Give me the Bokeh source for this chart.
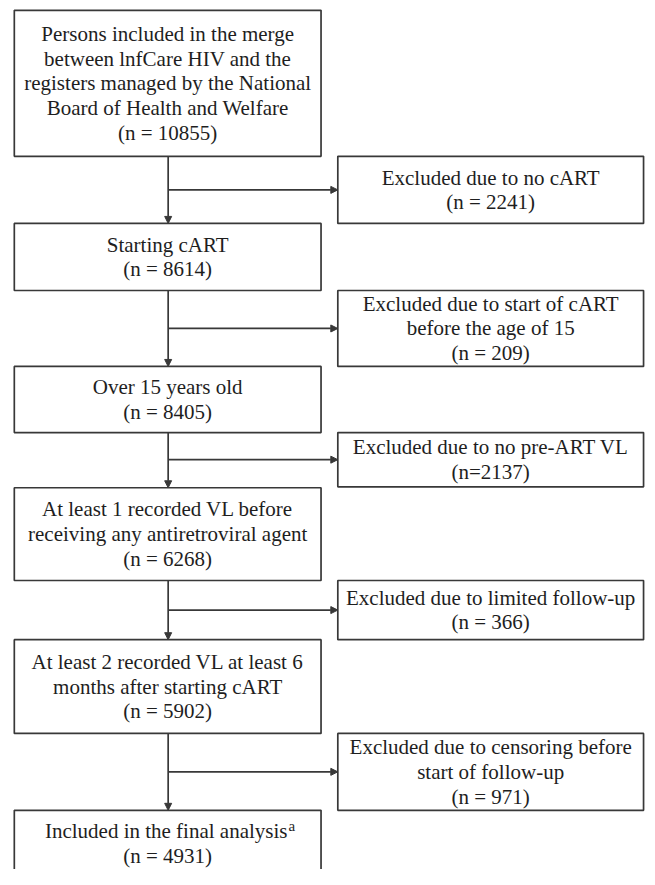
from bokeh.plotting import figure
from bokeh.models import Range1d, Arrow, NormalHead, ColumnDataSource
from bokeh.embed import file_html
from bokeh.resources import INLINE
from bokeh.core.properties import value

# ---------------- data ----------------
main_labels = [
    "Persons included in the merge\nbetween lnfCare HIV and the\nregisters managed by the National\nBoard of Health and Welfare",
    "Starting cART",
    "Over 15 years old",
    "At least 1 recorded VL before\nreceiving any antiretroviral agent",
    "At least 2 recorded VL at least 6\nmonths after starting cART",
    "Included in the final analysis",
]
main_n = ["(n = 10855)", "(n = 8614)", "(n = 8405)", "(n = 6268)", "(n = 5902)", "(n = 4931)"]
main_note = ["", "", "", "", "", "a"]

excl_labels = [
    "Excluded due to no cART",
    "Excluded due to start of cART\nbefore the age of 15",
    "Excluded due to no pre-ART VL",
    "Excluded due to limited follow-up",
    "Excluded due to censoring before\nstart of follow-up",
]
excl_n = ["(n = 2241)", "(n = 209)", "(n=2137)", "(n = 366)", "(n = 971)"]

# ---------------- layout (reference-pixel coordinates) ----------------
main_top = [10, 226, 371, 494, 648, 821]
main_bot = [158, 294, 438, 588, 743, 890]
excl_top = [158, 294, 438, 588, 743]
excl_bot = [226, 371, 493, 648, 821]
main_left, main_right = 14, 325
excl_left, excl_right = 342, 652
stem_x = 170
LINE = 25
box6_center = 854.5

FONT = value("Liberation Serif")
FSIZE = "21px"
TXT = "#1e1e1e"
LC = "#383838"
LW = 1.7

p = figure(width=647, height=869, x_range=Range1d(0, 656), y_range=Range1d(881, 0),
           x_axis_type=None, y_axis_type=None, toolbar_location=None,
           output_backend="svg", min_border=0, outline_line_color=None,
           background_fill_color="white", border_fill_color="white")
p.grid.visible = False

# boxes
p.quad(left=[main_left] * len(main_top), right=[main_right] * len(main_top),
       top=main_top, bottom=main_bot, fill_color=None, line_color=LC, line_width=LW)
p.quad(left=[excl_left] * len(excl_top), right=[excl_right] * len(excl_top),
       top=excl_top, bottom=excl_bot, fill_color=None, line_color=LC, line_width=LW)

# connectors
vx0, vy0, vx1, vy1 = [], [], [], []
for i in range(len(main_top) - 1):
    vx0.append(stem_x); vy0.append(main_bot[i]); vx1.append(stem_x); vy1.append(main_top[i + 1])
hx0, hy0, hx1, hy1 = [], [], [], []
for i in range(len(excl_top)):
    yc = (excl_top[i] + excl_bot[i]) / 2
    hx0.append(stem_x); hy0.append(yc); hx1.append(excl_left); hy1.append(yc)

arr_src = ColumnDataSource(dict(x0=vx0 + hx0, y0=vy0 + hy0, x1=vx1 + hx1, y1=vy1 + hy1))
p.add_layout(Arrow(x_start="x0", y_start="y0", x_end="x1", y_end="y1", source=arr_src,
                   line_color=LC, line_width=LW,
                   end=NormalHead(size=7, fill_color=LC, line_color=LC, line_width=1)))

# texts
tx, ty, tt = [], [], []
sx, sy, st = [], [], []
rx, ry, rt = [], [], []
for i, lab in enumerate(main_labels):
    lines = lab.split("\n") + [main_n[i]]
    cy = (main_top[i] + main_bot[i]) / 2 if i < len(main_labels) - 1 else box6_center
    cx = (main_left + main_right) / 2
    k = len(lines)
    for j, ln in enumerate(lines):
        y = cy + (j - (k - 1) / 2) * LINE
        if j == 0 and main_note[i]:
            rx.append(291); ry.append(y); rt.append(ln)
            sx.append(292); sy.append(y - 5); st.append(main_note[i])
        else:
            tx.append(cx); ty.append(y); tt.append(ln)
for i, lab in enumerate(excl_labels):
    lines = lab.split("\n") + [excl_n[i]]
    cy = (excl_top[i] + excl_bot[i]) / 2
    cx = (excl_left + excl_right) / 2
    k = len(lines)
    for j, ln in enumerate(lines):
        y = cy + (j - (k - 1) / 2) * LINE
        tx.append(cx); ty.append(y); tt.append(ln)

p.text(x=tx, y=ty, text=tt, text_align="center", text_baseline="middle",
       text_font=FONT, text_font_size=FSIZE, text_color=TXT)
p.text(x=rx, y=ry, text=rt, text_align="right", text_baseline="middle",
       text_font=FONT, text_font_size=FSIZE, text_color=TXT)
p.text(x=sx, y=sy, text=st, text_align="left", text_baseline="middle",
       text_font=FONT, text_font_size="15px", text_color=TXT)

open("out.html", "w").write(file_html(p, INLINE))
